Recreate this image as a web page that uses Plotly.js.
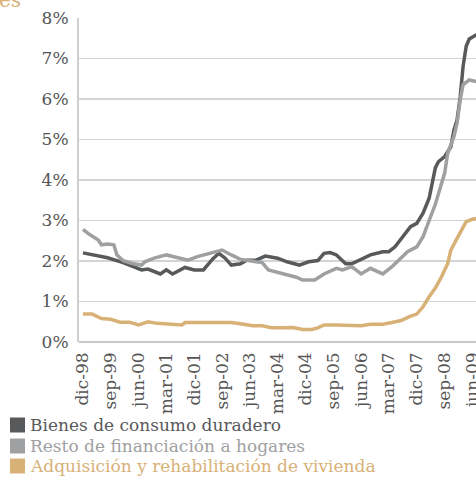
<!DOCTYPE html>
<html>
<head>
<meta charset="utf-8">
<script src="https://cdn.plot.ly/plotly-3.0.1.min.js"></script>
<style>
html,body{margin:0;padding:0;overflow:hidden;background:#fff;width:476px;height:477px;}
#chart{width:486px;height:477px;}
</style>
</head>
<body>
<div id="chart"></div>
<script>
// Bienes de consumo duradero
var bienesDates = ["1998-12","1999-04","1999-08","2000-01","2000-04","2000-07","2000-09","2001-01","2001-03","2001-05","2001-09","2001-12","2002-03","2002-06","2002-08","2002-10","2002-12","2003-03","2003-05","2003-08","2003-11","2004-03","2004-06","2004-10","2005-01","2005-04","2005-06","2005-08","2005-10","2006-01","2006-03","2006-06","2006-09","2007-01","2007-03","2007-05","2007-08","2007-10","2007-12","2008-02","2008-04","2008-06","2008-07","2008-09","2008-11","2008-12","2009-01","2009-02","2009-03","2009-04","2009-05","2009-07","2009-08"];
var bienes = [2.20,2.15,2.08,1.96,1.88,1.78,1.80,1.68,1.78,1.68,1.84,1.78,1.78,2.05,2.19,2.07,1.90,1.93,2.02,2.02,2.12,2.07,1.98,1.90,1.98,2.01,2.19,2.21,2.15,1.93,1.93,2.04,2.15,2.23,2.23,2.35,2.64,2.85,2.93,3.18,3.55,4.30,4.45,4.58,4.82,5.23,5.48,6.05,6.80,7.30,7.48,7.58,7.62];

// Resto de financiación a hogares
var restoDates = ["1998-12","1999-02","1999-05","1999-06","1999-08","1999-10","1999-11","2000-01","2000-04","2000-07","2000-08","2000-11","2001-03","2001-06","2001-10","2002-01","2002-04","2002-06","2002-09","2002-12","2003-03","2003-08","2003-10","2003-12","2004-04","2004-07","2004-09","2004-11","2005-01","2005-03","2005-04","2005-06","2005-10","2005-12","2006-03","2006-06","2006-09","2007-01","2007-04","2007-07","2007-09","2007-12","2008-02","2008-04","2008-06","2008-09","2008-10","2008-12","2009-01","2009-02","2009-03","2009-05","2009-07","2009-08"];
var resto = [2.78,2.66,2.52,2.40,2.42,2.40,2.15,2.01,1.94,1.90,1.98,2.07,2.15,2.09,2.02,2.11,2.17,2.19,2.27,2.15,2.04,1.98,1.96,1.78,1.70,1.63,1.60,1.53,1.53,1.53,1.58,1.68,1.82,1.78,1.86,1.68,1.82,1.68,1.86,2.07,2.23,2.35,2.60,3.00,3.40,4.17,4.66,5.07,5.40,5.98,6.35,6.47,6.43,6.42];

// Adquisición y rehabilitación de vivienda
var viviendaDates = ["1998-12","1999-03","1999-06","1999-09","1999-12","2000-03","2000-06","2000-09","2000-12","2001-03","2001-05","2001-08","2001-09","2001-12","2002-06","2002-12","2003-04","2003-07","2003-10","2004-01","2004-03","2004-08","2004-11","2005-02","2005-04","2005-06","2005-10","2006-02","2006-06","2006-09","2007-01","2007-04","2007-07","2007-10","2007-12","2008-02","2008-04","2008-06","2008-08","2008-10","2008-11","2009-01","2009-03","2009-04","2009-06","2009-08"];
var vivienda = [0.69,0.69,0.58,0.56,0.49,0.49,0.42,0.50,0.46,0.44,0.42,0.42,0.48,0.48,0.48,0.48,0.44,0.40,0.40,0.35,0.35,0.36,0.31,0.31,0.35,0.42,0.42,0.40,0.40,0.44,0.44,0.48,0.53,0.64,0.69,0.87,1.12,1.33,1.61,1.94,2.27,2.56,2.81,2.97,3.03,3.06];

var seriesNames = ["Bienes de consumo duradero","Resto de financiación a hogares","Adquisición y rehabilitación de vivienda"];
var seriesColors = ["#58595b","#9fa0a2","#d8b177"];

var tickVals = ["1998-12-01","1999-09-01","2000-06-01","2001-03-01","2001-12-01","2002-09-01","2003-06-01","2004-03-01","2004-12-01","2005-09-01","2006-06-01","2007-03-01","2007-12-01","2008-09-01","2009-06-01"];
var tickText = ["dic-98","sep-99","jun-00","mar-01","dic-01","sep-02","jun-03","mar-04","dic-04","sep-05","jun-06","mar-07","dic-07","sep-08","jun-09"];

var xs = [bienesDates, restoDates, viviendaDates];
var ys = [bienes, resto, vivienda];

var traces = [];
for (var i = 0; i < 3; i++) {
  traces.push({
    type: "scatter", mode: "lines", x: xs[i], y: ys[i],
    name: seriesNames[i],
    line: {color: seriesColors[i], width: 3.5},
    showlegend: false, hoverinfo: "skip"
  });
}

// plot area geometry (pixels) used to place the legend in paper units
var W = 486, H = 477, ML = 79, MT = 18, MB = 135;
var PW = W - ML, PH = H - MT - MB;
function px2x(p) { return (p - ML) / PW; }
function py2y(p) { return (H - MB - p) / PH; }

var legendRowsY = [425, 446, 466];
var shapes = [], annotations = [];
for (var k = 0; k < 3; k++) {
  var cy = legendRowsY[k];
  shapes.push({
    type: "rect", xref: "paper", yref: "paper",
    x0: px2x(10), x1: px2x(25), y0: py2y(cy + 7.5), y1: py2y(cy - 7.5),
    fillcolor: seriesColors[k], line: {width: 0}
  });
  annotations.push({
    xref: "paper", yref: "paper", x: px2x(28), y: py2y(cy),
    xanchor: "left", yanchor: "middle", showarrow: false,
    text: seriesNames[k],
    font: {family: "DejaVu Serif, serif", size: 17, color: seriesColors[k]}
  });
}
annotations.push({
  xref: "paper", yref: "paper", x: px2x(-3), y: py2y(0),
  xanchor: "left", yanchor: "bottom", yshift: -14,
  text: "es", showarrow: false,
  font: {family: "DejaVu Serif, serif", size: 20, color: "#d8b177"}
});

var font = "DejaVu Serif, serif";
var layout = {
  width: W, height: H,
  margin: {l: ML, r: 0, t: MT, b: MB},
  paper_bgcolor: "#fff", plot_bgcolor: "#fff",
  font: {family: font, size: 17, color: "#555"},
  showlegend: false,
  xaxis: {
    type: "date",
    range: ["1998-10-23", "2009-10-13"],
    tickvals: tickVals, ticktext: tickText,
    tickangle: -90,
    showgrid: false, zeroline: false,
    showline: false,
    ticks: "", ticklabelstandoff: 6,
    tickfont: {family: font, size: 17, color: "#555"}
  },
  yaxis: {
    range: [0, 8], dtick: 1, ticksuffix: "%",
    showgrid: true, gridcolor: "#d4d4d4", gridwidth: 1.5,
    zeroline: true, zerolinecolor: "#c8c8c8", zerolinewidth: 2,
    showline: true, linecolor: "#cfcfcf", linewidth: 2,
    ticks: "", ticklabelstandoff: 5,
    tickfont: {family: font, size: 17, color: "#555"}
  },
  shapes: shapes,
  annotations: annotations
};

Plotly.newPlot("chart", traces, layout, {displayModeBar: false, staticPlot: true});
</script>
</body>
</html>
